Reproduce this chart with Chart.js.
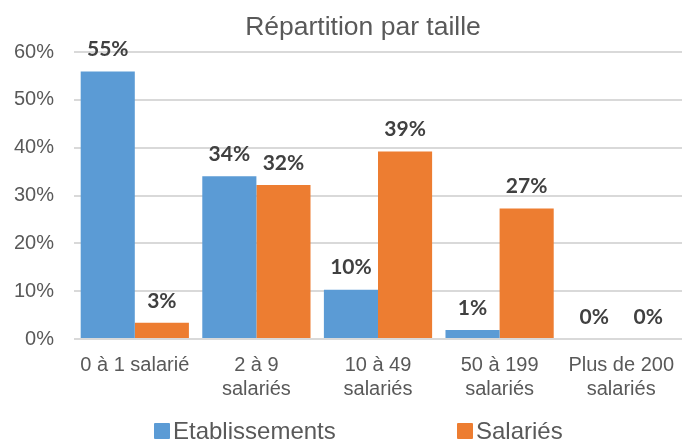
<!DOCTYPE html>
<html><head><meta charset="utf-8">
<script src="https://cdn.jsdelivr.net/npm/chart.js@4"></script>
<style>
html,body{margin:0;padding:0;background:#fff;overflow:hidden;}
#wrap{position:relative;width:682px;height:439px;}
#legend{position:absolute;left:0;top:0;width:682px;height:439px;font-family:"Liberation Sans",Arial,sans-serif;font-size:24px;color:#595959;pointer-events:none;}
#legend .txt{position:absolute;white-space:nowrap;line-height:26px;}
#legend .box{position:absolute;width:16px;height:16px;border-radius:1px;}
</style>
</head><body>
<div id="wrap"><canvas id="c" width="682" height="439"></canvas><div id="legend"></div></div>
<script>
const categories = [["0 à 1 salarié"], ["2 à 9", "salariés"], ["10 à 49", "salariés"], ["50 à 199", "salariés"], ["Plus de 200", "salariés"]];
const seriesNames = ["Etablissements", "Salariés"];
const etablissements = [55.9, 34.0, 10.3, 1.9, 0.0];
const salaries = [3.4, 32.2, 39.2, 27.3, 0.0];
const yTicks = [0, 10, 20, 30, 40, 50, 60];
const titleText = "Répartition par taille";
const colors = ["#5b9bd5", "#ed7d31"];

const dataLabels = {
  id: 'dataLabels',
  afterDatasetsDraw(chart) {
    const ctx = chart.ctx;
    ctx.save();
    ctx.font = 'bold 21px Lato, "Open Sans", sans-serif';
    ctx.fillStyle = '#404040';
    ctx.textAlign = 'center';
    ctx.textBaseline = 'middle';
    chart.data.datasets.forEach((ds, i) => {
      chart.getDatasetMeta(i).data.forEach((bar, j) => {
        ctx.fillText(Math.floor(ds.data[j]) + '%', bar.x, bar.y - 22);
      });
    });
    ctx.restore();
  }
};

const titlePlugin = {
  id: 'titleText',
  afterDraw(chart) {
    const ctx = chart.ctx;
    ctx.save();
    ctx.font = '26.5px "Liberation Sans", Arial, sans-serif';
    ctx.fillStyle = '#595959';
    ctx.textAlign = 'center';
    ctx.textBaseline = 'alphabetic';
    ctx.fillText(titleText, 363, 35);
    ctx.restore();
  }
};

const axisFont = { family: '"Liberation Sans", Arial, sans-serif', size: 20 };

const chart = new Chart(document.getElementById('c'), {
  type: 'bar',
  data: {
    labels: categories,
    datasets: [
      { label: seriesNames[0], data: etablissements, backgroundColor: colors[0] },
      { label: seriesNames[1], data: salaries, backgroundColor: colors[1] }
    ]
  },
  options: {
    responsive: false,
    animation: false,
    layout: { padding: { left: 13, right: 0, top: 52, bottom: 32 } },
    plugins: {
      legend: { display: false },
      tooltip: { enabled: false },
      title: { display: false }
    },
    datasets: { bar: { categoryPercentage: 0.89, barPercentage: 1.0 } },
    scales: {
      x: {
        grid: { display: false },
        border: { display: false },
        ticks: { color: '#595959', font: axisFont, maxRotation: 0, autoSkip: false, padding: 6 },
        afterFit: (s) => { s.paddingLeft = 0; s.paddingRight = 0; }
      },
      y: {
        min: 0, max: 60,
        afterBuildTicks: (s) => { s.ticks = yTicks.map(v => ({ value: v })); },
        afterFit: (s) => { s.paddingTop = 0; s.paddingBottom = 0; s.width = 61; },
        grid: { color: '#d9d9d9', lineWidth: 2, drawTicks: false },
        border: { display: false },
        ticks: { color: '#595959', font: axisFont, padding: 20, callback: v => v + '%' }
      }
    }
  },
  plugins: [dataLabels, titlePlugin]
});

const leg = document.getElementById('legend');
const legBoxX = [154, 457];
seriesNames.forEach((n, i) => {
  const b = document.createElement('div');
  b.className = 'box';
  b.style.left = legBoxX[i] + 'px';
  b.style.top = '423px';
  b.style.background = colors[i];
  leg.appendChild(b);
  const t = document.createElement('div');
  t.className = 'txt';
  t.style.left = (legBoxX[i] + 19) + 'px';
  t.style.top = '418px';
  t.textContent = n;
  leg.appendChild(t);
});
</script>
</body></html>
